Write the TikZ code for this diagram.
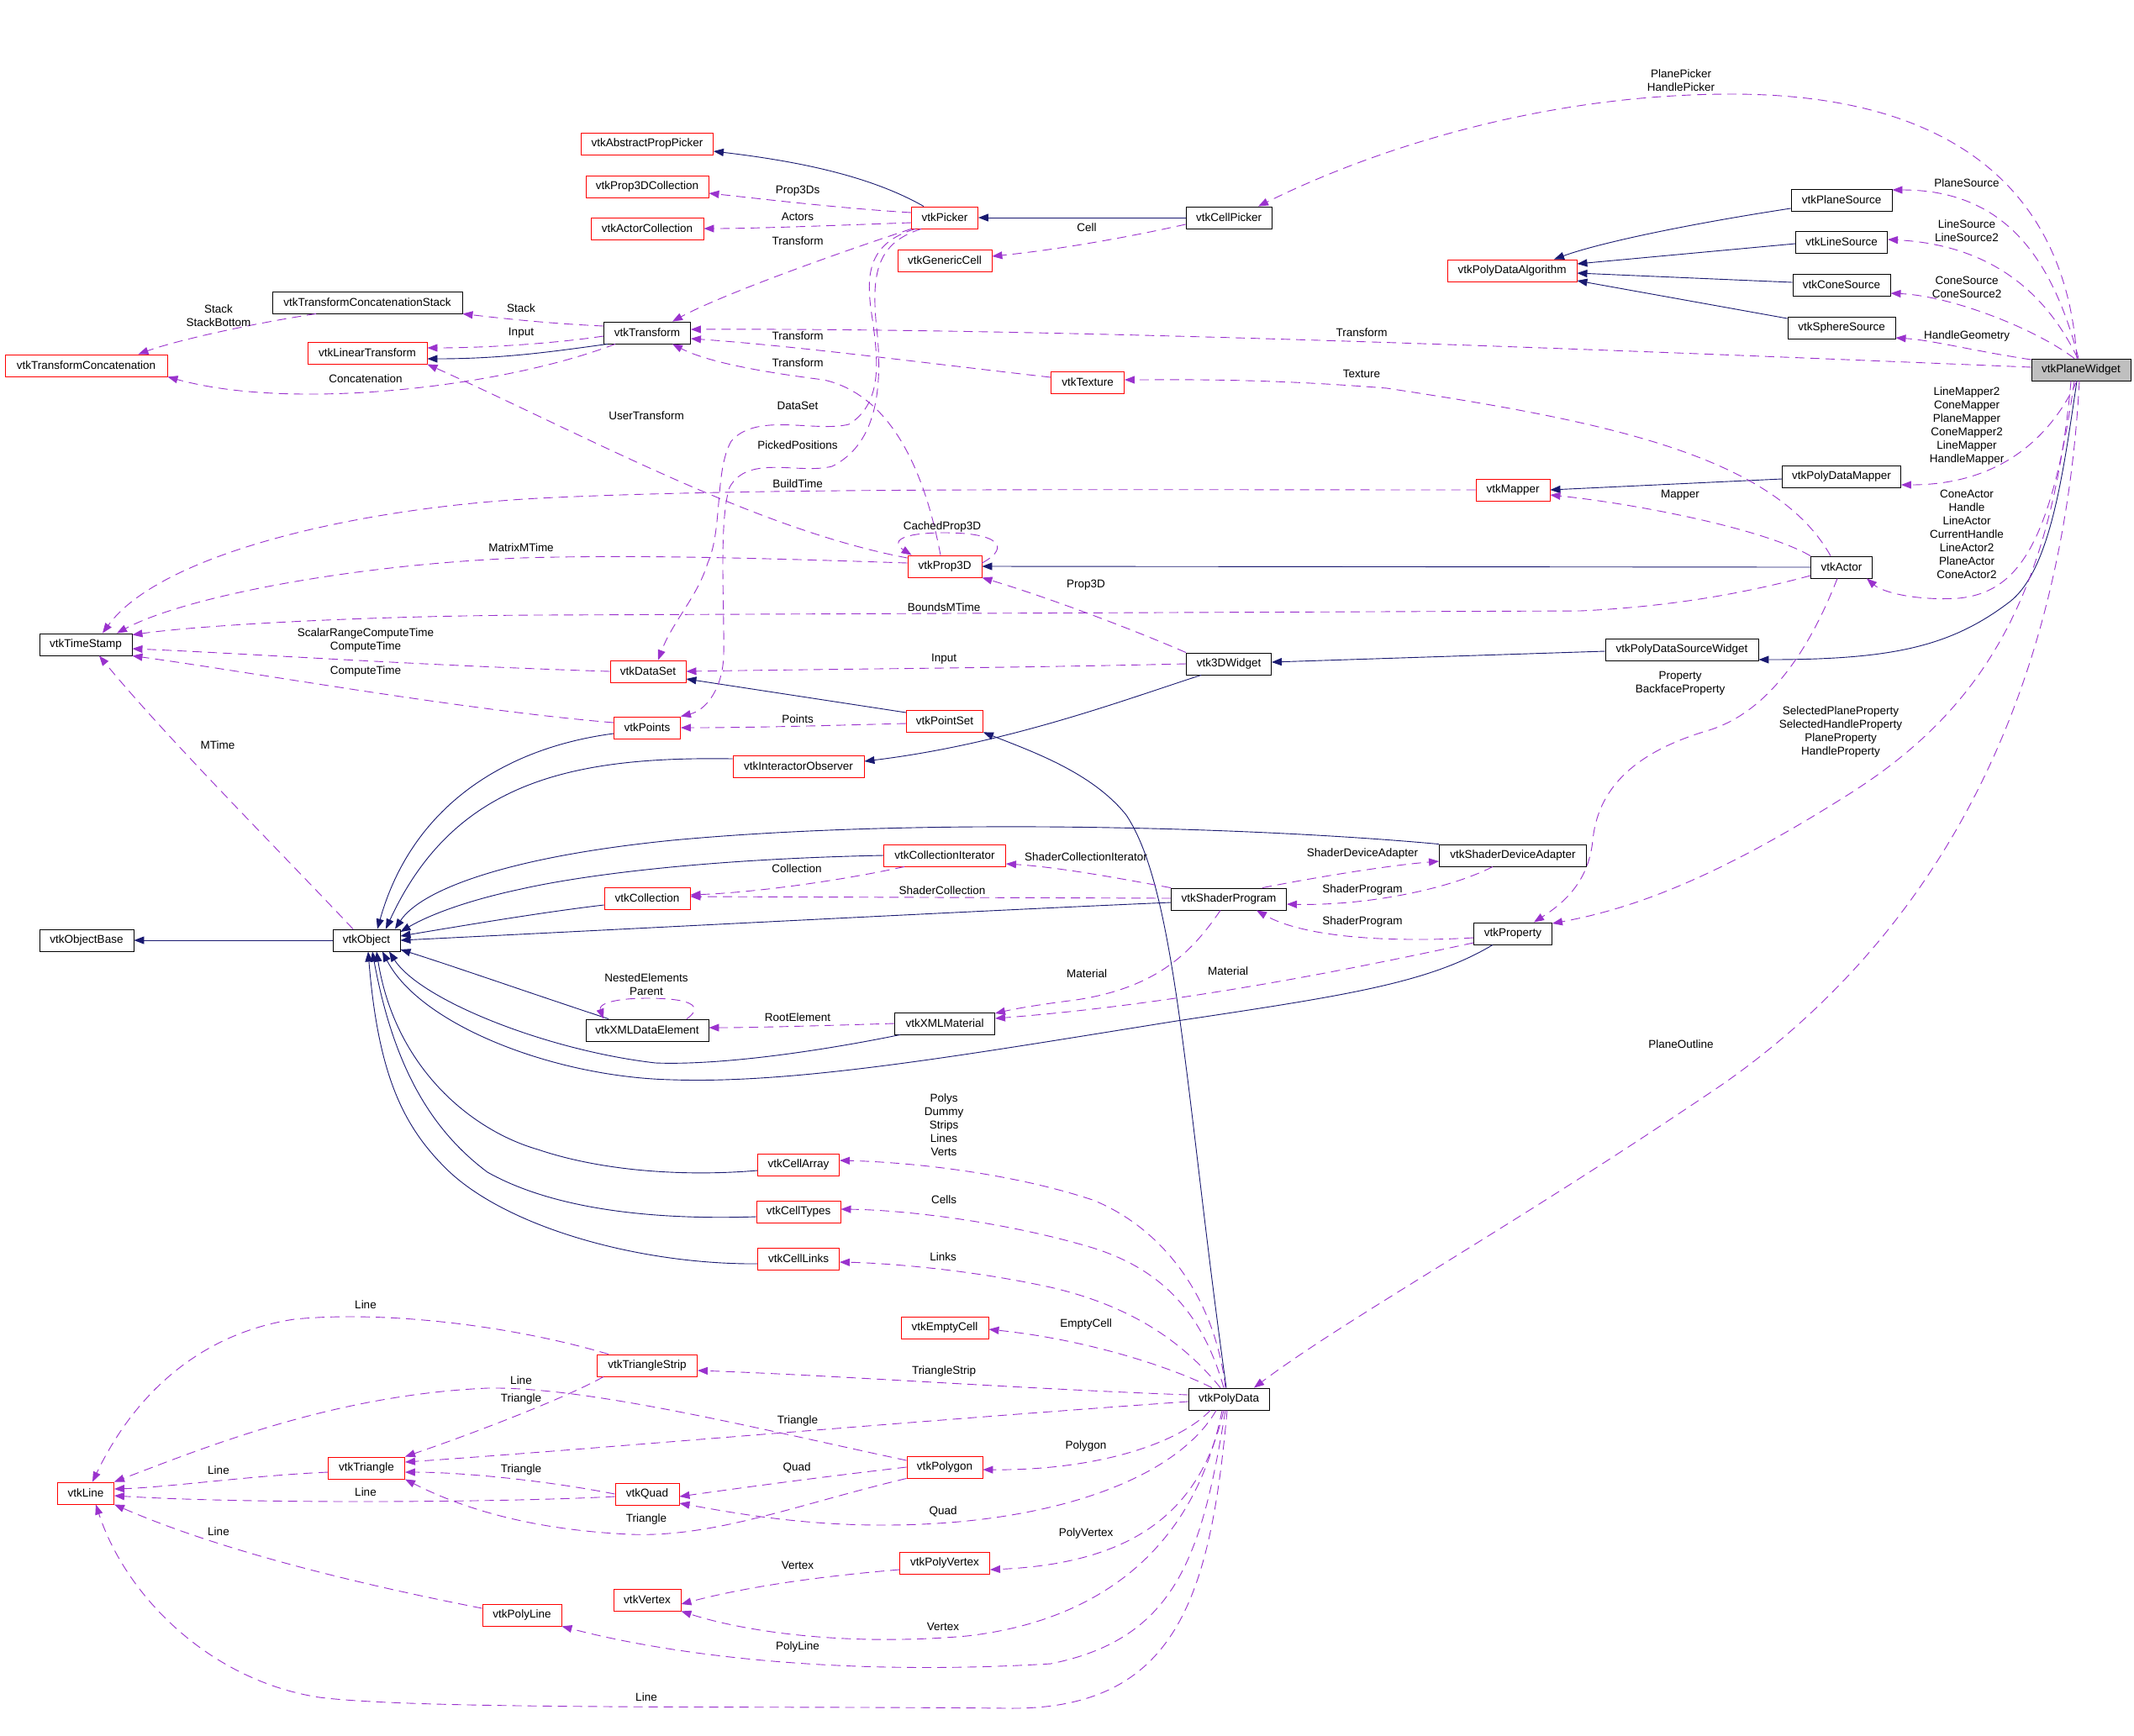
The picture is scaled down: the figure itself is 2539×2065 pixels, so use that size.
\documentclass[tikz,border=0pt]{standalone}
\usepackage{fontspec}
\setmainfont{Liberation Sans}
\usetikzlibrary{arrows.meta}
\definecolor{vtkred}{HTML}{FF0000}
\definecolor{vtknavy}{HTML}{191970}
\definecolor{vtkpurple}{HTML}{9A32CD}
\definecolor{vtkgray}{HTML}{BFBFBF}
\newcommand\vtkfs{\fontsize{13.5pt}{16pt}\selectfont}
\begin{document}
\begin{tikzpicture}[x=1pt,y=-1pt,
  cls/.style={rectangle, draw, line width=0.9pt, minimum height=26pt, inner sep=0pt, font=\vtkfs, text=black},
  redcls/.style={cls, draw=vtkred},
  blkcls/.style={cls, draw=black},
  inhedge/.style={draw=vtknavy, line width=0.9pt, -{Triangle[length=12pt,width=9pt]}},
  usedge/.style={draw=vtkpurple, line width=0.9pt, dash pattern=on 11pt off 7pt, -{Triangle[length=12pt,width=9pt]}},
  elabel/.style={font=\vtkfs, align=center, inner sep=0pt, text=black}
]
\path[use as bounding box, fill=white] (0,0) rectangle (2539,2065);

% ---------------- nodes ----------------
\node[blkcls, minimum width=226pt] (tcs) at (437,360) {vtkTransformConcatenationStack};
\node[redcls, minimum width=193pt] (tc) at (102.5,435) {vtkTransformConcatenation};
\node[redcls, minimum width=142pt] (lt) at (437,420) {vtkLinearTransform};
\node[redcls, minimum width=157pt] (app) at (770,171) {vtkAbstractPropPicker};
\node[redcls, minimum width=146pt] (p3c) at (770,222) {vtkProp3DCollection};
\node[redcls, minimum width=134pt] (ac) at (770,272) {vtkActorCollection};
\node[redcls, minimum width=79pt] (picker) at (1124,259) {vtkPicker};
\node[redcls, minimum width=112pt] (gc) at (1124,310) {vtkGenericCell};
\node[blkcls, minimum width=103pt] (tr) at (770,396) {vtkTransform};
\node[redcls, minimum width=88pt] (p3d) at (1124,674) {vtkProp3D};
\node[redcls, minimum width=87pt] (tex) at (1294,455) {vtkTexture};
\node[blkcls, minimum width=102pt] (cp) at (1462,259) {vtkCellPicker};
\node[redcls, minimum width=154pt] (pda) at (1799,322) {vtkPolyDataAlgorithm};
\node[redcls, minimum width=88pt] (map) at (1800,583) {vtkMapper};
\node[blkcls, minimum width=120pt] (ps) at (2191,238) {vtkPlaneSource};
\node[blkcls, minimum width=109pt] (ls) at (2191,288) {vtkLineSource};
\node[blkcls, minimum width=116pt] (cs) at (2191,339) {vtkConeSource};
\node[blkcls, minimum width=128pt] (ss) at (2191,390) {vtkSphereSource};
\node[blkcls, fill=vtkgray, minimum width=118pt] (pw) at (2476,440) {vtkPlaneWidget};
\node[blkcls, minimum width=141pt] (pdm) at (2191,567) {vtkPolyDataMapper};
\node[blkcls, minimum width=73pt] (act) at (2191,675) {vtkActor};
\node[blkcls, minimum width=110pt] (ts) at (102,767) {vtkTimeStamp};
\node[blkcls, minimum width=112pt] (ob) at (103,1119) {vtkObjectBase};
\node[blkcls, minimum width=80pt] (obj) at (436,1119) {vtkObject};
\node[redcls, minimum width=90pt] (ds) at (771,799) {vtkDataSet};
\node[redcls, minimum width=79pt] (pts) at (770,866) {vtkPoints};
\node[redcls, minimum width=91pt] (pset) at (1124,858) {vtkPointSet};
\node[redcls, minimum width=156pt] (io) at (950,912) {vtkInteractorObserver};
\node[redcls, minimum width=145pt] (ci) at (1124,1018) {vtkCollectionIterator};
\node[redcls, minimum width=102pt] (col) at (770,1069) {vtkCollection};
\node[blkcls, minimum width=146pt] (xde) at (770,1226) {vtkXMLDataElement};
\node[blkcls, minimum width=119pt] (xm) at (1124,1218) {vtkXMLMaterial};
\node[redcls, minimum width=97pt] (carr) at (950,1386) {vtkCellArray};
\node[blkcls, minimum width=101pt] (w3d) at (1462,790) {vtk3DWidget};
\node[blkcls, minimum width=175pt] (sda) at (1800,1018) {vtkShaderDeviceAdapter};
\node[blkcls, minimum width=137pt] (sp) at (1462,1070) {vtkShaderProgram};
\node[blkcls, minimum width=93pt] (prop) at (1800,1111) {vtkProperty};
\node[blkcls, minimum width=182pt] (pdsw) at (2001,773) {vtkPolyDataSourceWidget};
\node[redcls, minimum width=67pt] (vline) at (102,1777) {vtkLine};
\node[redcls, minimum width=91pt] (tri) at (436,1747) {vtkTriangle};
\node[redcls, minimum width=94pt] (pl) at (621,1922) {vtkPolyLine};
\node[redcls, minimum width=100pt] (ct) at (950,1442) {vtkCellTypes};
\node[redcls, minimum width=97pt] (cl) at (950,1498) {vtkCellLinks};
\node[redcls, minimum width=104pt] (ec) at (1124,1580) {vtkEmptyCell};
\node[redcls, minimum width=119pt] (tstrip) at (770,1625) {vtkTriangleStrip};
\node[redcls, minimum width=90pt] (pg) at (1124,1746) {vtkPolygon};
\node[redcls, minimum width=76pt] (quad) at (770,1778) {vtkQuad};
\node[redcls, minimum width=107pt] (pv) at (1124,1860) {vtkPolyVertex};
\node[redcls, minimum width=80pt] (vert) at (770,1904) {vtkVertex};
\node[blkcls, minimum width=96pt] (pd) at (1462,1665) {vtkPolyData};

% ---------------- inheritance ----------------
\draw[inhedge] ([xshift=-25pt]picker.north) .. controls (1040,212) and (960,193) .. ([yshift=-9pt]app.east);
\draw[inhedge] (cp.west) -- (picker.east);
\draw[inhedge] ([yshift=-10pt]ps.west) .. controls (2000,268) and (1900,290) .. ([xshift=50pt]pda.north);
\draw[inhedge] ([yshift=-2pt]ls.west) -- ([yshift=8pt]pda.east);
\draw[inhedge] ([yshift=3pt]cs.west) -- ([yshift=-3pt]pda.east);
\draw[inhedge] ([yshift=11pt]ss.west) -- ([yshift=-12pt]pda.east);
\draw[inhedge] ([xshift=-47pt]tr.south) .. controls (660,418) and (600,427) .. ([yshift=-7pt]lt.east);
\draw[inhedge] ([yshift=-3pt]pdm.west) -- (map.east);
\draw[inhedge] (act.west) -- (p3d.east);
\draw[inhedge] ([yshift=-2pt]pdsw.west) -- ([yshift=2pt]w3d.east);
\draw[inhedge] ([xshift=-5pt]pw.south) .. controls (2455,560) and (2440,680) .. (2390,717) .. controls (2320,770) and (2250,785) .. ([yshift=-12pt]pdsw.east);
\draw[inhedge] ([yshift=10pt]pset.west) -- ([yshift=-9pt]ds.east);
\draw[inhedge] ([xshift=-3pt]pd.north) .. controls (1410,1300) and (1400,1060) .. (1340,970) .. controls (1300,920) and (1230,895) .. (pset.south east);
\draw[inhedge] ([xshift=-33pt]w3d.south) .. controls (1340,832) and (1200,885) .. ([yshift=6pt]io.east);
\draw[inhedge] (obj.west) -- (ob.east);
\draw[inhedge] ([yshift=-7pt]pts.west) .. controls (600,890) and (490,960) .. ([xshift=13pt]obj.north);
\draw[inhedge] ([yshift=9pt]io.west) .. controls (680,900) and (540,930) .. ([xshift=23pt]obj.north);
\draw[inhedge] (sda.north west) .. controls (1500,985) and (1100,972) .. (800,1000) .. controls (600,1020) and (500,1060) .. ([xshift=34pt]obj.north);
\draw[inhedge] (ci.west) .. controls (850,1022) and (700,1040) .. (620,1058) .. controls (540,1075) and (500,1095) .. ([yshift=10pt]obj.east);
\draw[inhedge] ([yshift=-8pt]col.west) .. controls (650,1085) and (560,1100) .. ([yshift=5pt]obj.east);
\draw[inhedge] ([yshift=-4pt]sp.west) .. controls (1200,1082) and (700,1108) .. (obj.east);
\draw[inhedge] ([xshift=-46pt]xde.north) .. controls (640,1185) and (540,1150) .. ([yshift=-11pt]obj.east);
\draw[inhedge] ([xshift=-53pt]xm.south) .. controls (980,1250) and (860,1268) .. (780,1265) .. controls (650,1250) and (500,1190) .. ([xshift=27pt]obj.south);
\draw[inhedge] ([xshift=-24pt]prop.south) .. controls (1700,1170) and (1600,1185) .. (1400,1215) .. controls (1150,1255) and (950,1290) .. (800,1285) .. controls (660,1282) and (500,1220) .. ([xshift=19pt]obj.south);
\draw[inhedge] ([yshift=-7pt]carr.west) .. controls (820,1400) and (720,1395) .. (640,1368) .. controls (560,1345) and (470,1270) .. ([xshift=12pt]obj.south);
\draw[inhedge] ([yshift=-6pt]ct.west) .. controls (780,1452) and (660,1440) .. (580,1395) .. controls (520,1350) and (470,1280) .. ([xshift=7pt]obj.south);
\draw[inhedge] ([yshift=-6pt]cl.west) .. controls (760,1505) and (600,1460) .. (530,1390) .. controls (480,1340) and (450,1280) .. ([xshift=2pt]obj.south);

% ---------------- usage ----------------
\draw[usedge] ([xshift=-5pt]pw.north) .. controls (2460,250) and (2350,112) .. (2060,112) .. controls (1850,112) and (1650,170) .. ([xshift=35pt]cp.north);
\draw[usedge] ([xshift=-3pt]pw.north) .. controls (2440,300) and (2380,226) .. ([yshift=12pt]ps.east);
\draw[usedge] ([xshift=-4pt]pw.north) .. controls (2440,360) and (2380,292) .. ([yshift=3pt]ls.east);
\draw[usedge] ([xshift=-8pt]pw.north) .. controls (2420,390) and (2320,352) .. ([yshift=-10pt]cs.east);
\draw[usedge] ([yshift=12pt]pw.west) .. controls (2350,418) and (2300,405) .. ([yshift=-12pt]ss.east);
\draw[usedge] ([yshift=3pt]pw.west) .. controls (2000,420) and (1300,390) .. ([yshift=4pt]tr.east);
\draw[usedge] ([xshift=-5pt]pw.south) .. controls (2440,520) and (2380,577) .. ([yshift=-10pt]pdm.east);
\draw[usedge] ([xshift=-8pt]pw.south) .. controls (2440,650) and (2400,705) .. (2330,712) .. controls (2280,715) and (2240,705) .. ([xshift=30pt]act.south);
\draw[usedge] ([xshift=-12pt]pw.south) .. controls (2440,720) and (2350,850) .. (2200,945) .. controls (2050,1040) and (1950,1080) .. ([yshift=12pt]prop.east);
\draw[usedge] ([xshift=-2pt]pw.south) .. controls (2450,900) and (2250,1150) .. (2050,1290) .. controls (1800,1460) and (1600,1570) .. ([xshift=30pt]pd.north);
\draw[usedge] ([yshift=6pt]picker.west) .. controls (1000,248) and (900,236) .. ([yshift=-8pt]p3c.east);
\draw[usedge] ([yshift=-6pt]picker.west) .. controls (1000,268) and (900,272) .. (ac.east);
\draw[usedge] (picker.south west) .. controls (1000,300) and (860,350) .. ([xshift=30pt]tr.north);
\draw[usedge] ([xshift=-35pt]picker.south) .. controls (1030,290) and (1030,330) .. (1038,380) .. controls (1045,430) and (1050,480) .. (1010,505) .. controls (970,515) and (900,490) .. (870,525) .. controls (850,560) and (860,630) .. (842,670) .. controls (830,710) and (800,740) .. ([xshift=12pt]ds.north);
\draw[usedge] ([xshift=-28pt]picker.south) .. controls (1040,290) and (1036,330) .. (1044,400) .. controls (1050,470) and (1040,530) .. (990,555) .. controls (950,565) and (890,540) .. (868,580) .. controls (855,620) and (862,720) .. (861,779) .. controls (860,820) and (840,845) .. (pts.north east);
\draw[usedge] ([yshift=-8pt]cp.west) .. controls (1330,285) and (1250,298) .. ([yshift=5pt]gc.east);
\draw[usedge] ([yshift=8pt]tr.west) .. controls (650,385) and (590,378) .. (tcs.south east);
\draw[usedge] ([yshift=-4pt]tr.west) .. controls (650,410) and (570,414) .. ([yshift=6pt]lt.east);
\draw[usedge] ([xshift=-38pt]tr.south) .. controls (600,460) and (350,490) .. (tc.south east);
\draw[usedge] ([xshift=-61pt]tcs.south) .. controls (300,385) and (210,405) .. ([xshift=62pt]tc.north);
\draw[usedge] ([yshift=10pt]p3d.west) .. controls (900,630) and (700,520) .. (lt.south east);
\draw[usedge] ([xshift=-5pt]p3d.north) .. controls (1100,560) and (1060,470) .. (980,452) .. controls (900,442) and (840,430) .. ([xshift=30pt]tr.south);
\draw[usedge] ([yshift=4pt]p3d.east) .. controls (1205,650) and (1185,634) .. (1124,634) .. controls (1070,634) and (1060,645) .. ([xshift=5pt]p3d.north west);
\draw[usedge] ([yshift=4pt]p3d.west) .. controls (900,664) and (750,660) .. (620,664) .. controls (420,672) and (220,710) .. ([xshift=37pt]ts.north);
\draw[usedge] (map.west) .. controls (1300,583) and (900,580) .. (640,593) .. controls (420,605) and (190,660) .. ([xshift=20pt]ts.north);
\draw[usedge] ([yshift=-10pt]act.west) .. controls (2080,705) and (1990,722) .. (1880,727) -- (640,732) .. controls (420,733) and (230,745) .. ([yshift=-2pt]ts.north east);
\draw[usedge] ([xshift=-13pt]act.north) .. controls (2110,540) and (1900,500) .. (1650,462) .. controls (1500,450) and (1400,452) .. ([yshift=3pt]tex.east);
\draw[usedge] (act.north west) .. controls (2100,630) and (1950,600) .. ([yshift=-6pt]map.east);
\draw[usedge] ([xshift=-5pt]act.south) .. controls (2150,780) and (2100,850) .. (2030,870) .. controls (1930,900) and (1900,950) .. (1895,1000) .. controls (1890,1050) and (1860,1075) .. ([xshift=25pt]prop.north);
\draw[usedge] ([yshift=6pt]tex.west) .. controls (1100,432) and (950,412) .. ([yshift=-7pt]tr.east);
\draw[usedge] (w3d.north west) .. controls (1350,750) and (1250,712) .. (p3d.south east);
\draw[usedge] (w3d.west) .. controls (1200,795) and (1000,796) .. (ds.east);
\draw[usedge] (ds.west) .. controls (500,792) and (300,778) .. ([yshift=-5pt]ts.east);
\draw[usedge] ([yshift=6pt]pts.west) .. controls (550,845) and (300,800) .. (ts.south east);
\draw[usedge] ([xshift=-16pt]obj.north) .. controls (330,1010) and (200,880) .. ([xshift=16pt]ts.south);
\draw[usedge] ([yshift=-3pt]pset.west) .. controls (1000,863) and (900,866) .. (pts.east);
\draw[usedge] ([xshift=-48pt]ci.south) .. controls (1000,1048) and (900,1062) .. ([yshift=4pt]col.east);
\draw[usedge] (sp.north west) .. controls (1330,1045) and (1260,1032) .. ([yshift=-10pt]ci.east);
\draw[usedge] ([yshift=1pt]sp.west) -- ([yshift=2pt]col.east);
\draw[usedge] ([xshift=40pt]sp.north) .. controls (1560,1045) and (1650,1030) .. ([yshift=-7pt]sda.west);
\draw[usedge] ([xshift=-24pt]sda.south) .. controls (1720,1060) and (1620,1078) .. ([yshift=-6pt]sp.east);
\draw[usedge] ([yshift=-5pt]prop.west) .. controls (1650,1122) and (1550,1115) .. ([xshift=33pt]sp.south);
\draw[usedge] ([xshift=-10pt]sp.south) .. controls (1420,1130) and (1380,1175) .. (1280,1190) .. controls (1240,1195) and (1210,1200) .. ([yshift=12pt]xm.east);
\draw[usedge] ([yshift=-11pt]prop.west) .. controls (1600,1155) and (1400,1195) .. ([yshift=6pt]xm.east);
\draw[usedge] (xm.west) .. controls (1000,1220) and (900,1223) .. ([yshift=3pt]xde.east);
\draw[usedge] ([xshift=47pt]xde.north) .. controls (835,1200) and (830,1188) .. (770,1188) .. controls (730,1188) and (712,1195) .. ([xshift=-52pt]xde.north);
\draw[usedge] ([xshift=-4pt]pd.north) .. controls (1445,1540) and (1380,1460) .. (1300,1428) .. controls (1200,1395) and (1080,1383) .. ([yshift=5pt]carr.east);
\draw[usedge] ([xshift=-6pt]pd.north) .. controls (1430,1560) and (1380,1510) .. (1300,1485) .. controls (1200,1455) and (1080,1440) .. ([yshift=3pt]ct.east);
\draw[usedge] ([xshift=-10pt]pd.north) .. controls (1410,1600) and (1350,1555) .. (1250,1532) .. controls (1150,1510) and (1050,1503) .. ([yshift=-4pt]cl.east);
\draw[usedge] ([xshift=-20pt]pd.north) .. controls (1400,1630) and (1300,1595) .. ([yshift=-2pt]ec.east);
\draw[usedge] ([yshift=5pt]pd.west) .. controls (1200,1652) and (1000,1637) .. ([yshift=-6pt]tstrip.east);
\draw[usedge] ([yshift=-3pt]pd.west) .. controls (1100,1690) and (700,1725) .. ([yshift=7pt]tri.east);
\draw[usedge] ([xshift=-22pt]pd.south) .. controls (1400,1720) and (1300,1750) .. ([yshift=-3pt]pg.east);
\draw[usedge] ([xshift=-15pt]pd.south) .. controls (1400,1760) and (1250,1815) .. (1050,1815) .. controls (950,1815) and (870,1800) .. ([yshift=-11pt]quad.east);
\draw[usedge] ([xshift=-6pt]pd.south) .. controls (1430,1790) and (1360,1860) .. ([yshift=-8pt]pv.east);
\draw[usedge] ([xshift=-8pt]pd.south) .. controls (1420,1850) and (1300,1930) .. (1150,1947) .. controls (1000,1960) and (880,1940) .. (vert.south east);
\draw[usedge] ([xshift=-4pt]pd.south) .. controls (1430,1850) and (1400,1950) .. (1250,1980) .. controls (1000,1995) and (800,1970) .. (pl.south east);
\draw[usedge] ([xshift=-2pt]pd.south) .. controls (1440,1900) and (1400,2035) .. (1200,2033) .. controls (900,2030) and (500,2035) .. (380,2020) .. controls (250,2000) and (150,1900) .. ([xshift=12pt]vline.south);
\draw[usedge] ([xshift=-46pt]tstrip.north) .. controls (600,1575) and (450,1560) .. (350,1570) .. controls (220,1590) and (150,1680) .. ([xshift=8pt]vline.north);
\draw[usedge] ([yshift=8pt]pg.west) .. controls (900,1700) and (700,1650) .. (580,1652) .. controls (400,1660) and (250,1720) .. (vline.north east);
\draw[usedge] ([xshift=-52pt]tstrip.south) .. controls (680,1660) and (580,1700) .. (tri.north east);
\draw[usedge] (quad.west) .. controls (650,1762) and (550,1752) .. ([yshift=-5pt]tri.east);
\draw[usedge] ([yshift=-3pt]quad.west) .. controls (600,1788) and (300,1790) .. ([yshift=-3pt]vline.east);
\draw[usedge] ([yshift=-5pt]tri.west) .. controls (300,1756) and (200,1770) .. ([yshift=5pt]vline.east);
\draw[usedge] (pg.south west) .. controls (950,1790) and (850,1830) .. (750,1826) .. controls (620,1820) and (540,1790) .. (tri.south east);
\draw[usedge] (pg.west) .. controls (1000,1755) and (900,1768) .. ([yshift=-3pt]quad.east);
\draw[usedge] ([yshift=8pt]pl.west) .. controls (400,1880) and (250,1840) .. (vline.south east);
\draw[usedge] ([yshift=-8pt]pv.west) .. controls (950,1878) and (870,1893) .. ([yshift=-5pt]vert.east);

% ---------------- labels ----------------
\node[elabel] (l1) at (2000,96) {PlanePicker\\HandlePicker};
\node[elabel] (l2) at (2340,218) {PlaneSource};
\node[elabel] (l3) at (2340,274.5) {LineSource\\LineSource2};
\node[elabel] (l4) at (2340,342) {ConeSource\\ConeSource2};
\node[elabel] (l5) at (2340,400) {HandleGeometry};
\node[elabel] (l6) at (1620,396) {Transform};
\node[elabel] (l7) at (2340,507) {LineMapper2\\ConeMapper\\PlaneMapper\\ConeMapper2\\LineMapper\\HandleMapper};
\node[elabel] (l8) at (2340,636) {ConeActor\\Handle\\LineActor\\CurrentHandle\\LineActor2\\PlaneActor\\ConeActor2};
\node[elabel] (l9) at (2190,871) {SelectedPlaneProperty\\SelectedHandleProperty\\PlaneProperty\\HandleProperty};
\node[elabel] (l10) at (2000,1243) {PlaneOutline};
\node[elabel] (l11) at (949,227) {Prop3Ds};
\node[elabel] (l12) at (949,258) {Actors};
\node[elabel] (l13) at (949,287) {Transform};
\node[elabel] (l14) at (949,483) {DataSet};
\node[elabel] (l15) at (949,530) {PickedPositions};
\node[elabel] (l16) at (1293,271) {Cell};
\node[elabel] (l17) at (620,367) {Stack};
\node[elabel] (l18) at (620,396) {Input};
\node[elabel] (l19) at (435,451) {Concatenation};
\node[elabel] (l20) at (260,376) {Stack\\StackBottom};
\node[elabel] (l21) at (769,495) {UserTransform};
\node[elabel] (l22) at (949,432) {Transform};
\node[elabel] (l23) at (1121,627) {CachedProp3D};
\node[elabel] (l24) at (620,652) {MatrixMTime};
\node[elabel] (l25) at (949,576) {BuildTime};
\node[elabel] (l26) at (1123,723) {BoundsMTime};
\node[elabel] (l27) at (1620,445) {Texture};
\node[elabel] (l28) at (1999,589) {Mapper};
\node[elabel] (l29) at (1999,813) {Property\\BackfaceProperty};
\node[elabel] (l30) at (1292,696) {Prop3D};
\node[elabel] (l31) at (1123,784) {Input};
\node[elabel] (l32) at (435,762) {ScalarRangeComputeTime\\ComputeTime};
\node[elabel] (l33) at (435,799) {ComputeTime};
\node[elabel] (l34) at (259,887) {MTime};
\node[elabel] (l35) at (949,856) {Points};
\node[elabel] (l36) at (948,1034) {Collection};
\node[elabel] (l37) at (1292,1020) {ShaderCollectionIterator};
\node[elabel] (l38) at (1121,1060) {ShaderCollection};
\node[elabel] (l39) at (1621,1016) {ShaderDeviceAdapter};
\node[elabel] (l40) at (1621,1059) {ShaderProgram};
\node[elabel] (l41) at (1621,1097) {ShaderProgram};
\node[elabel] (l42) at (1293,1159) {Material};
\node[elabel] (l43) at (1461,1156) {Material};
\node[elabel] (l44) at (949,1211) {RootElement};
\node[elabel] (l45) at (769,1172) {NestedElements\\Parent};
\node[elabel] (l46) at (1123,1339) {Polys\\Dummy\\Strips\\Lines\\Verts};
\node[elabel] (l47) at (1123,1428) {Cells};
\node[elabel] (l48) at (1122,1496) {Links};
\node[elabel] (l49) at (1292,1576) {EmptyCell};
\node[elabel] (l50) at (1123,1632) {TriangleStrip};
\node[elabel] (l51) at (949,1691) {Triangle};
\node[elabel] (l52) at (1292,1721) {Polygon};
\node[elabel] (l53) at (1122,1799) {Quad};
\node[elabel] (l54) at (1292,1825) {PolyVertex};
\node[elabel] (l55) at (1122,1936) {Vertex};
\node[elabel] (l56) at (949,1960) {PolyLine};
\node[elabel] (l57) at (769,2020) {Line};
\node[elabel] (l58) at (435,1553) {Line};
\node[elabel] (l59) at (620,1643) {Line};
\node[elabel] (l60) at (620,1665) {Triangle};
\node[elabel] (l61) at (620,1749) {Triangle};
\node[elabel] (l62) at (435,1776) {Line};
\node[elabel] (l63) at (260,1750) {Line};
\node[elabel] (l64) at (769,1808) {Triangle};
\node[elabel] (l65) at (948,1747) {Quad};
\node[elabel] (l66) at (260,1823) {Line};
\node[elabel] (l67) at (949,1863) {Vertex};
\node[elabel] (l68) at (949,400) {Transform};
\end{tikzpicture}
\end{document}
